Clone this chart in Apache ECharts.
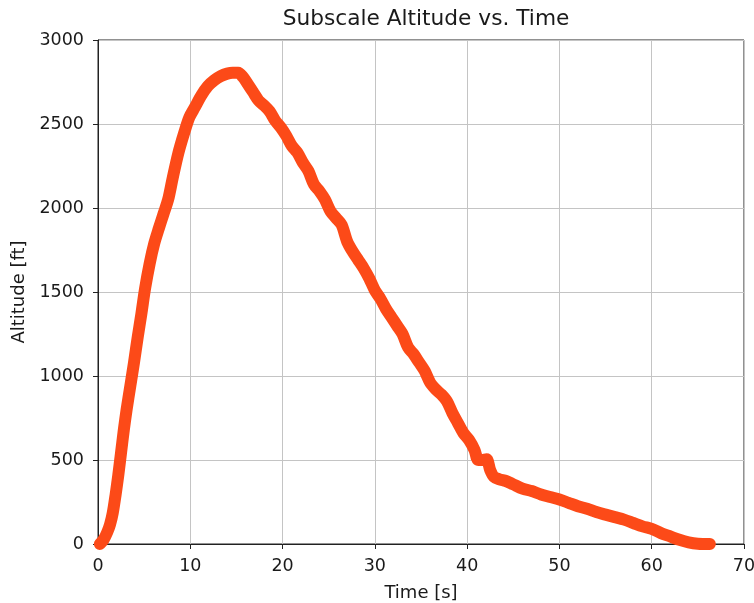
<!DOCTYPE html>
<html>
<head>
<meta charset="utf-8">
<script src="https://cdn.jsdelivr.net/npm/echarts@6/dist/echarts.min.js"></script>
<style>
html,body{margin:0;padding:0;background:#fff;}
#chart{width:754px;height:603px;}
</style>
</head>
<body>
<div id="chart"></div>
<script>
// Time [s]
const timeS = [0.2, 0.6, 1.0, 1.3, 1.6, 1.9, 2.2, 2.5, 2.8, 3.1, 3.5, 3.9, 4.3, 4.7, 5.1, 5.6, 6.1, 6.6, 7.1, 7.6,
  8.1, 8.7, 9.3, 9.9, 10.5, 11.2, 11.9, 12.6, 13.3, 14.0, 14.6, 15.2, 15.7, 16.2, 16.8, 17.4, 18.0, 18.6, 19.2, 19.8,
  20.4, 21.0, 21.6, 22.2, 22.8, 23.4, 24.0, 24.6, 25.2, 25.8, 26.4, 27.0, 27.6, 28.2, 28.8, 29.4, 30.0, 30.6, 31.2, 31.8,
  32.4, 33.0, 33.6, 34.2, 34.8, 35.4, 36.0, 36.6, 37.2, 37.8, 38.4, 39.0, 39.6, 40.2, 40.8, 41.2, 41.6, 42.1, 42.5, 42.9,
  43.5, 44.2, 45.0, 46.0, 47.0, 48.0, 49.0, 50.0, 51.0, 52.0, 53.0, 54.0, 55.0, 56.0, 57.0, 58.0, 59.0, 60.0, 61.0, 62.0,
  63.0, 64.0, 65.0, 66.3];
// Altitude [ft]
const altitudeFt = [0, 25, 70, 115, 185, 290, 410, 545, 680, 800, 940, 1080, 1230, 1370, 1520, 1670, 1790, 1880, 1965, 2050,
  2180, 2325, 2440, 2540, 2600, 2670, 2725, 2760, 2785, 2800, 2805, 2805, 2780, 2740, 2690, 2640, 2610, 2575, 2520, 2480,
  2430, 2370, 2330, 2270, 2220, 2140, 2100, 2050, 1980, 1940, 1900, 1800, 1740, 1690, 1640, 1580, 1510, 1460, 1400, 1350,
  1300, 1250, 1170, 1130, 1080, 1030, 960, 920, 890, 850, 780, 720, 660, 620, 560, 500, 500, 505, 440, 400,
  385, 375, 355, 330, 315, 295, 280, 265, 245, 225, 210, 190, 175, 160, 145, 125, 105, 90, 65, 45,
  25, 10, 2, 0];

const titleText = 'Subscale Altitude vs. Time';
const xName = 'Time [s]';
const yName = 'Altitude [ft]';

const points = timeS.map((t, i) => [t, altitudeFt[i]]);

const chart = echarts.init(document.getElementById('chart'), null, {renderer: 'canvas'});
const font = 'DejaVu Sans';
const ink = '#1a1a1a';
chart.setOption({
  animation: false,
  backgroundColor: '#ffffff',
  title: {
    text: titleText,
    left: 421,
    top: 3,
    textAlign: 'center',
    textStyle: {fontFamily: font, fontSize: 21.7, fontWeight: 'normal', color: ink}
  },
  grid: {
    left: 98, right: 10, top: 40, bottom: 59,
    containLabel: false,
    outerBoundsMode: 'none',
    show: true, borderColor: '#222', borderWidth: 1, backgroundColor: 'transparent'
  },
  xAxis: {
    type: 'value', min: 0, max: 70, interval: 10,
    name: xName, nameLocation: 'middle', nameGap: 40,
    nameTextStyle: {fontFamily: font, fontSize: 18, color: ink},
    axisLine: {show: true, onZero: false, lineStyle: {color: '#222', width: 1}},
    axisTick: {show: true, inside: false, length: 5, lineStyle: {color: '#222'}},
    axisLabel: {fontFamily: font, fontSize: 17.5, color: ink, margin: 13, formatter: v => String(v)},
    splitLine: {show: true, lineStyle: {color: '#c4c4c4', width: 1}}
  },
  yAxis: {
    type: 'value', min: 0, max: 3000, interval: 500,
    name: yName, nameLocation: 'middle', nameGap: 66,
    nameTextStyle: {fontFamily: font, fontSize: 18, color: ink},
    axisLine: {show: true, onZero: false, lineStyle: {color: '#222', width: 1}},
    axisTick: {show: true, inside: false, length: 5, lineStyle: {color: '#222'}},
    axisLabel: {fontFamily: font, fontSize: 17.5, color: ink, margin: 14, formatter: v => String(v)},
    splitLine: {show: true, lineStyle: {color: '#c4c4c4', width: 1}}
  },
  series: [{
    type: 'line',
    data: points,
    showSymbol: false,
    symbol: 'none',
    smooth: 0.3,
    lineStyle: {color: '#FC4A18', width: 12, cap: 'round', join: 'round'},
    itemStyle: {color: '#FC4A18'}
  }]
});
</script>
</body>
</html>
